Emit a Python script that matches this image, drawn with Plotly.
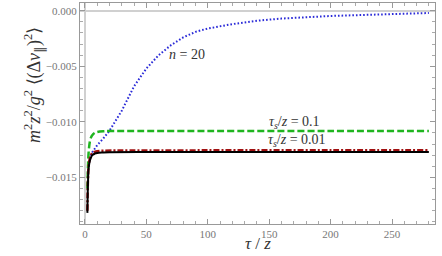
import plotly.graph_objects as go

# Data
x_black = [2, 2.5, 3, 4, 5, 6, 8, 10, 15, 20, 50, 100, 200, 280]
y_black = [-0.0182, -0.0155, -0.0142, -0.0135, -0.0132, -0.0130, -0.01287, -0.0128, -0.01276, -0.01274, -0.01272, -0.01272, -0.01272, -0.01272]

x_red = [2, 3, 4, 5, 6, 8, 10, 15, 30, 100, 200, 280]
y_red = [-0.0180, -0.0140, -0.0133, -0.0130, -0.0128, -0.0127, -0.01264, -0.0126, -0.01258, -0.01257, -0.01257, -0.01257]

x_green = [2, 2.5, 3, 4, 5, 6, 8, 10, 15, 20, 100, 200, 280]
y_green = [-0.0160, -0.0140, -0.0128, -0.0118, -0.0114, -0.0112, -0.0110, -0.01092, -0.01085, -0.01083, -0.01083, -0.01083, -0.01083]

x_blue = [3, 4, 5, 7, 10, 15, 20, 25, 30, 35, 40, 50, 60, 70, 80, 90, 100, 120, 140, 160, 180, 200, 220, 240, 260, 280]
y_blue = [-0.0140, -0.0132, -0.0129, -0.0126, -0.0121, -0.0115, -0.0108, -0.0099, -0.0090, -0.0079, -0.0068, -0.0052, -0.0040, -0.0031, -0.0024, -0.0019, -0.0016, -0.0012, -0.0009, -0.0007, -0.00057, -0.00047, -0.0004, -0.00033, -0.00027, -0.0002]

x_ticks = [0, 50, 100, 150, 200, 250]
y_ticks = [0.0, -0.005, -0.010, -0.015]

serif = "Liberation Serif"

fig = go.Figure()
fig.add_trace(go.Scatter(x=x_blue, y=y_blue, mode="lines",
                         line=dict(color="#2b2bd8", width=2, dash="1.6px,2px")))
fig.add_trace(go.Scatter(x=x_green, y=y_green, mode="lines",
                         line=dict(color="#1fb51f", width=2.5, dash="7px,3px", shape="spline")))
fig.add_trace(go.Scatter(x=x_red, y=y_red, mode="lines",
                         line=dict(color="#a01010", width=2.5, dash="6px,2px,2px,2px", shape="spline")))
fig.add_trace(go.Scatter(x=x_black, y=y_black, mode="lines",
                         line=dict(color="black", width=2, shape="spline")))

axis_common = dict(
    showgrid=False, showline=True, linecolor="#999", linewidth=1, mirror="ticks",
    ticks="inside", ticklen=5, tickcolor="#999", tickwidth=1,
    tickfont=dict(family=serif, size=11, color="#777"),
    zeroline=True, zerolinecolor="#d0d0d0", zerolinewidth=2, automargin=False,
)

fig.update_xaxes(range=[-4, 285], tickvals=x_ticks,
                 minor=dict(dtick=10, ticks="inside", ticklen=3, tickcolor="#aaa", showgrid=False),
                 **axis_common)
fig.update_yaxes(range=[-0.0192, 0.0007], tickvals=y_ticks, tickformat=".3f",
                 minor=dict(dtick=0.001, ticks="inside", ticklen=3, tickcolor="#aaa", showgrid=False),
                 **axis_common)

ann_font = dict(family=serif, size=14, color="#333")
fig.add_annotation(x=83, y=-0.0039, text="<i>n</i> = 20", showarrow=False, font=ann_font)
fig.add_annotation(x=171, y=-0.0101, text="<i>τ<sub>s</sub></i>/<i>z</i> = 0.1", showarrow=False, font=ann_font)
fig.add_annotation(x=173, y=-0.0117, text="<i>τ<sub>s</sub></i>/<i>z</i> = 0.01", showarrow=False, font=ann_font)

fig.add_annotation(xref="paper", yref="paper", x=-0.17, y=0.63, textangle=-90,
                   text="<i>m</i><sup>2</sup><i>z</i><sup>2</sup>/<i>g</i><sup>2</sup> ⟨(Δ<i>v</i><sub>∥</sub>)<sup>2</sup>⟩",
                   showarrow=False, font=dict(family=serif, size=18, color="#333"))
fig.add_annotation(xref="paper", yref="paper", x=0.5, y=-0.088, yanchor="middle",
                   text="<i>τ</i> / <i>z</i>", showarrow=False,
                   font=dict(family=serif, size=17, color="#333"))

fig.update_layout(width=442, height=256, margin=dict(l=80, r=7, t=3, b=32),
                  plot_bgcolor="white", paper_bgcolor="white", showlegend=False)

fig.write_html("out.html", config={"displayModeBar": False},
               post_script="document.body.style.margin='0px';")
